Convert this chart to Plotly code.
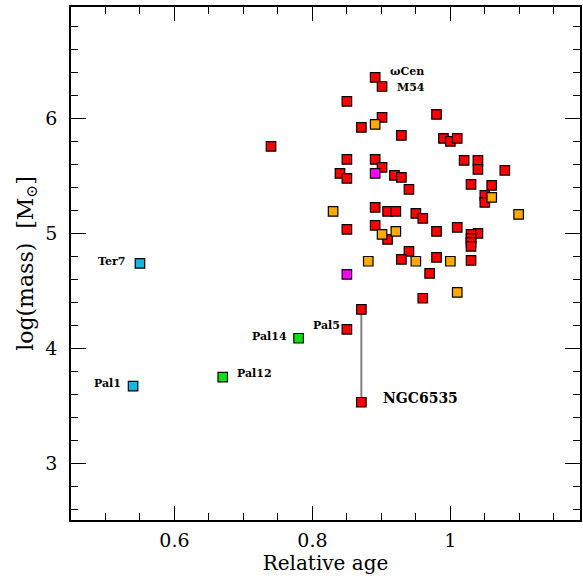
import plotly.graph_objects as go

# ---- data ----
red_x = [0.891, 0.901, 0.850, 0.980, 0.901, 0.871, 0.929, 0.990, 1.000, 1.010,
         0.740, 0.850, 0.891, 0.901, 0.840, 0.850, 0.919, 0.929, 0.940, 1.020,
         1.040, 1.040, 1.079, 1.030, 1.060, 1.050, 1.050, 0.891, 0.909, 0.921,
         0.950, 0.960, 0.850, 0.891, 0.909, 0.980, 1.010, 1.040, 1.030, 1.030,
         1.030, 1.030, 0.940, 0.929, 0.980, 1.030, 0.970, 0.960, 0.871, 0.850,
         0.871]
red_y = [6.357, 6.278, 6.148, 6.035, 6.009, 5.922, 5.852, 5.826, 5.800, 5.826,
         5.757, 5.643, 5.643, 5.574, 5.522, 5.478, 5.504, 5.487, 5.383, 5.635,
         5.635, 5.557, 5.548, 5.426, 5.417, 5.330, 5.270, 5.226, 5.191, 5.191,
         5.174, 5.130, 5.035, 5.070, 4.948, 5.017, 5.052, 5.000, 4.991, 4.957,
         4.922, 4.887, 4.843, 4.774, 4.791, 4.765, 4.652, 4.435, 4.339, 4.165,
         3.530]

orange_x = [0.891, 1.060, 0.830, 1.099, 0.901, 0.921, 0.881, 0.950, 1.000, 1.010]
orange_y = [5.948, 5.313, 5.191, 5.165, 4.991, 5.017, 4.757, 4.757, 4.757, 4.487]

magenta_x = [0.891, 0.850]
magenta_y = [5.522, 4.643]

cyan_x = [0.550, 0.540]
cyan_y = [4.739, 3.670]

green_x = [0.670, 0.780]
green_y = [3.748, 4.087]

# NGC6535 two estimates (connected by a line)
ngc_x = [0.871, 0.871]
ngc_y = [4.339, 3.530]

label_names = ["ωCen", "M54", "Ter7", "Pal1", "Pal12", "Pal14", "Pal5", "NGC6535"]
label_x = [0.891, 0.901, 0.550, 0.540, 0.670, 0.780, 0.850, 0.871]
label_y = [6.357, 6.278, 4.739, 3.670, 3.748, 4.087, 4.165, 3.530]

SERIF = "DejaVu Serif"

fig = go.Figure()

fig.add_trace(go.Scatter(x=ngc_x, y=ngc_y, mode="lines",
                         line=dict(color="#808080", width=2), showlegend=False,
                         hoverinfo="skip"))

def add_group(xs, ys, color):
    fig.add_trace(go.Scatter(
        x=xs, y=ys, mode="markers", showlegend=False,
        marker=dict(symbol="square", size=9.5, color=color,
                    line=dict(color="black", width=1.2))))

add_group(red_x, red_y, "#FF0000")
add_group(orange_x, orange_y, "#FFAA00")
add_group(magenta_x, magenta_y, "#FF00FF")
add_group(cyan_x, cyan_y, "#19B4E6")
add_group(green_x, green_y, "#10E010")

# label placement: (xanchor, xshift, yshift, size)
placement = {
    "ωCen": ("left", 13, 6, 11),
    "M54": ("left", 13, -1, 11),
    "Ter7": ("right", -13, 2, 11),
    "Pal1": ("right", -10, 3, 11),
    "Pal12": ("left", 12, 4, 11),
    "Pal14": ("right", -10, 2, 11),
    "Pal5": ("right", -5, 4, 11),
    "NGC6535": ("left", 20, 4, 14),
}
for name, lx, ly in zip(label_names, label_x, label_y):
    xa, xs, ys, sz = placement[name]
    fig.add_annotation(x=lx, y=ly, text="<b>%s</b>" % name, showarrow=False,
                       xanchor=xa, yanchor="middle", xshift=xs, yshift=ys,
                       font=dict(family=SERIF, size=sz, color="black"))

axis_common = dict(
    showgrid=False, zeroline=False, showline=True, linecolor="black",
    linewidth=1.5, mirror="ticks", ticks="inside", tickcolor="black",
    tickwidth=1, tickfont=dict(family=SERIF, size=19, color="black"),
)

fig.update_xaxes(
    range=[0.45, 1.188], ticklen=14,
    tickvals=[0.6, 0.8, 1.0], ticktext=["0.6", "0.8", "1"],
    minor=dict(dtick=0.05, tick0=0, ticklen=7, ticks="inside", tickcolor="black"),
    title=dict(text="Relative age", font=dict(family=SERIF, size=20, color="black"),
               standoff=0),
    ticklabelstandoff=2,
    **axis_common)

fig.update_yaxes(
    range=[2.505, 6.97], tick0=0, dtick=1, ticklen=15,
    minor=dict(dtick=0.2, tick0=0, ticklen=7, ticks="inside", tickcolor="black"),
    title=dict(text="log(mass)  [M<sub>⊙</sub>]",
               font=dict(family=SERIF, size=22, color="black"), standoff=6),
    ticklabelstandoff=8,
    **axis_common)

fig.update_layout(
    width=583, height=583,
    margin=dict(l=71, r=1, t=7, b=63),
    plot_bgcolor="white", paper_bgcolor="white",
)

fig.write_html("out.html", config={"displayModeBar": False},
               post_script="document.body.style.margin='0px';document.body.style.overflow='hidden';")
